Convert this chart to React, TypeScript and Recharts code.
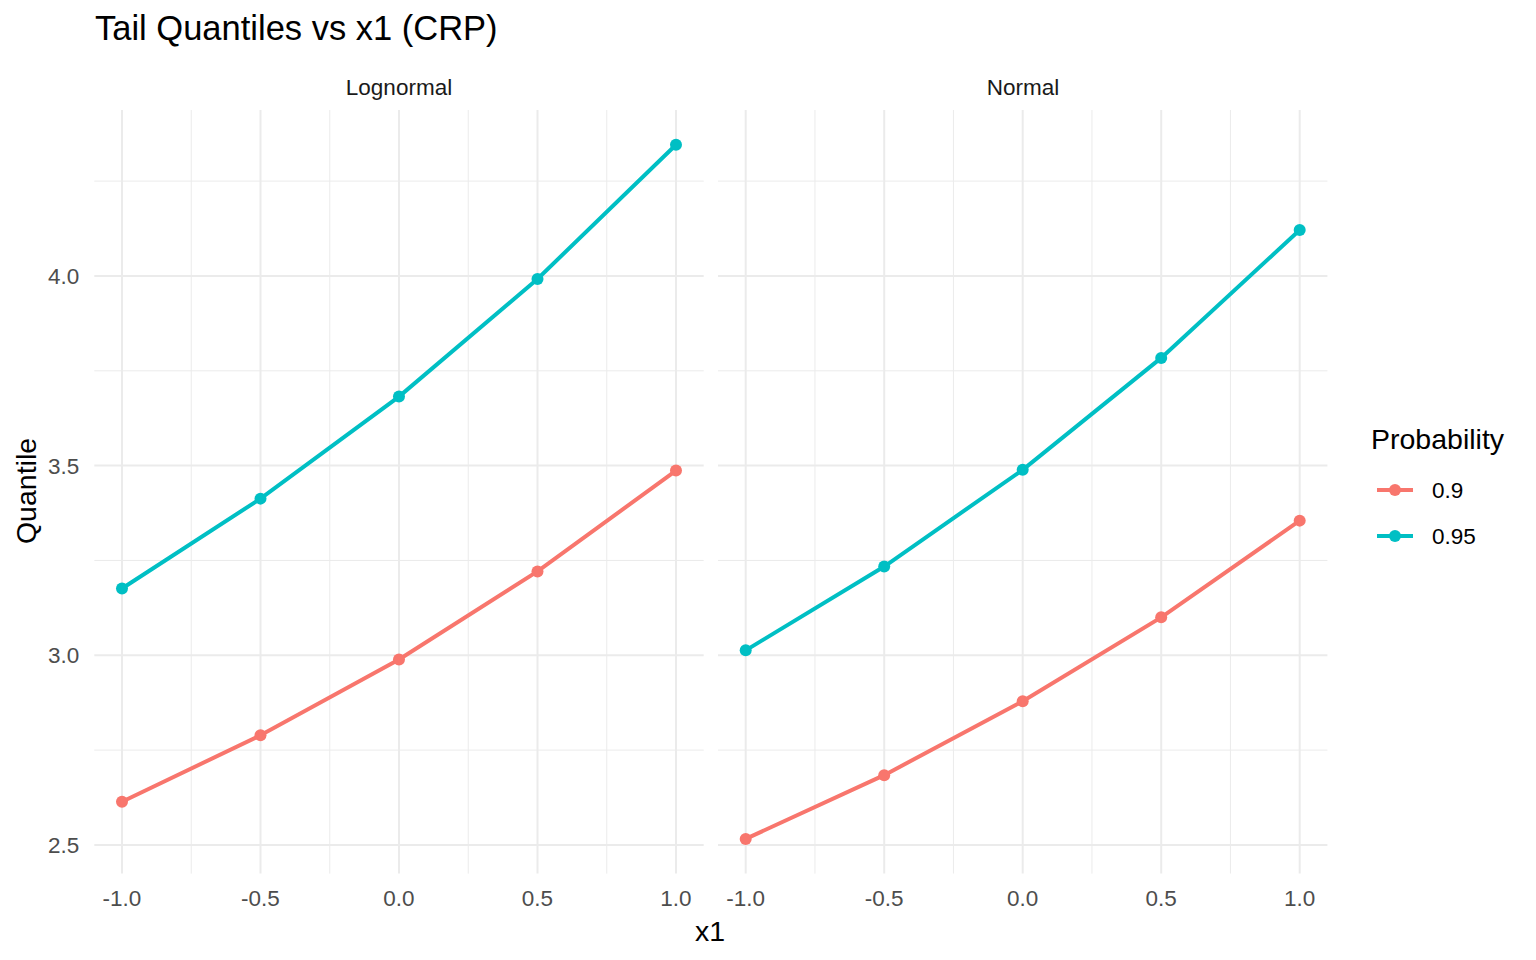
import React from "react";
import { LineChart, Line, XAxis, YAxis, CartesianGrid } from "recharts";

const xValues = [-1, -0.5, 0, 0.5, 1];
const lognormal90 = [2.614, 2.789, 2.989, 3.221, 3.487];
const lognormal95 = [3.176, 3.413, 3.682, 3.992, 4.346];
const normal90 = [2.516, 2.684, 2.879, 3.1, 3.355];
const normal95 = [3.013, 3.234, 3.489, 3.784, 4.121];

const xTicks = [-1, -0.5, 0, 0.5, 1];
const xMinor = [-0.75, -0.25, 0.25, 0.75];
const yTicks = [2.5, 3, 3.5, 4];
const yMinor = [2.75, 3.25, 3.75, 4.25];
const seriesNames = ["0.9", "0.95"];
const facetNames = ["Lognormal", "Normal"];

const COL90 = "#F8766D";
const COL95 = "#00BFC4";
const FONT = '"Liberation Sans", Arial, Helvetica, sans-serif';

const build = (a: number[], b: number[]) =>
  xValues.map((x, i) => ({ x, p90: a[i], p95: b[i] }));

const lognormalData = build(lognormal90, lognormal95);
const normalData = build(normal90, normal95);

const X_DOMAIN: [number, number] = [-1.1, 1.1];
const Y_DOMAIN: [number, number] = [2.4245, 4.4375];

const PLOT_TOP = 110;
const PLOT_H = 763.6;
const XAXIS_H = 60;
const LINE_W = 4;
const DOT_R = 6;

const tickStyle = { fill: "#4D4D4D", fontSize: 22.5, fontFamily: FONT };

function Facet({
  data,
  left,
  width,
  showY,
  yWidth,
}: {
  data: any[];
  left: number;
  width: number;
  showY: boolean;
  yWidth: number;
}) {
  return (
    <div style={{ position: "absolute", left, top: PLOT_TOP }}>
      <LineChart
        width={width}
        height={PLOT_H + XAXIS_H}
        data={data}
        margin={{ top: 0, right: 0, bottom: 0, left: 0 }}
      >
        <CartesianGrid
          stroke="#EBEBEB"
          strokeWidth={1}
          horizontalValues={yMinor}
          verticalValues={xMinor}
          fill="none"
        />
        <CartesianGrid
          stroke="#EBEBEB"
          strokeWidth={2}
          horizontalValues={yTicks}
          verticalValues={xTicks}
          fill="none"
        />
        <XAxis
          dataKey="x"
          type="number"
          domain={X_DOMAIN}
          ticks={xTicks}
          allowDataOverflow
          tickFormatter={(v: number) => v.toFixed(1)}
          axisLine={false}
          tickLine={false}
          tickSize={0}
          tickMargin={16}
          height={XAXIS_H}
          tick={tickStyle}
          interval={0}
        />
        <YAxis
          type="number"
          domain={Y_DOMAIN}
          ticks={yTicks}
          allowDataOverflow
          tickFormatter={(v: number) => v.toFixed(1)}
          axisLine={false}
          tickLine={false}
          tickSize={0}
          tickMargin={15}
          width={yWidth}
          hide={!showY}
          tick={tickStyle}
          interval={0}
        />
        <Line
          dataKey="p90"
          stroke={COL90}
          strokeWidth={LINE_W}
          dot={{ r: DOT_R, fill: COL90, stroke: "none" }}
          activeDot={false}
          isAnimationActive={false}
        />
        <Line
          dataKey="p95"
          stroke={COL95}
          strokeWidth={LINE_W}
          dot={{ r: DOT_R, fill: COL95, stroke: "none" }}
          activeDot={false}
          isAnimationActive={false}
        />
      </LineChart>
    </div>
  );
}

export default function App() {
  const leftPanelL = 94.3;
  const leftPanelR = 703.7;
  const rightPanelL = 718.3;
  const rightPanelR = 1327.7;
  return (
    <div
      style={{
        position: "absolute",
        left: 0,
        top: 0,
        width: 1536,
        height: 960,
        background: "#FFFFFF",
        fontFamily: FONT,
        overflow: "hidden",
      }}
    >
      <Facet data={lognormalData} left={0} width={leftPanelR} showY yWidth={leftPanelL} />
      <Facet
        data={normalData}
        left={rightPanelL}
        width={rightPanelR - rightPanelL}
        showY={false}
        yWidth={0}
      />
      <svg
        width={1536}
        height={960}
        style={{ position: "absolute", left: 0, top: 0, pointerEvents: "none" }}
        fontFamily={FONT}
      >
        <text x={95} y={40} fontSize={34.5} fill="#000000">
          Tail Quantiles vs x1 (CRP)
        </text>
        <text x={(leftPanelL + leftPanelR) / 2} y={95} fontSize={22.5} fill="#1A1A1A" textAnchor="middle">
          {facetNames[0]}
        </text>
        <text x={(rightPanelL + rightPanelR) / 2} y={95} fontSize={22.5} fill="#1A1A1A" textAnchor="middle">
          {facetNames[1]}
        </text>
        <text x={710} y={941} fontSize={28.5} fill="#000000" textAnchor="middle">
          x1
        </text>
        <text
          x={36}
          y={491}
          fontSize={28.5}
          fill="#000000"
          textAnchor="middle"
          transform="rotate(-90 36 491)"
        >
          Quantile
        </text>
        <text x={1371} y={449} fontSize={28.5} fill="#000000">
          Probability
        </text>
        {[COL90, COL95].map((c, i) => {
          const cy = 490 + i * 46;
          return (
            <g key={i}>
              <line x1={1377} x2={1413} y1={cy} y2={cy} stroke={c} strokeWidth={LINE_W} />
              <circle cx={1395} cy={cy} r={DOT_R} fill={c} />
              <text x={1432} y={cy + 8} fontSize={22.5} fill="#000000">
                {seriesNames[i]}
              </text>
            </g>
          );
        })}
      </svg>
    </div>
  );
}
